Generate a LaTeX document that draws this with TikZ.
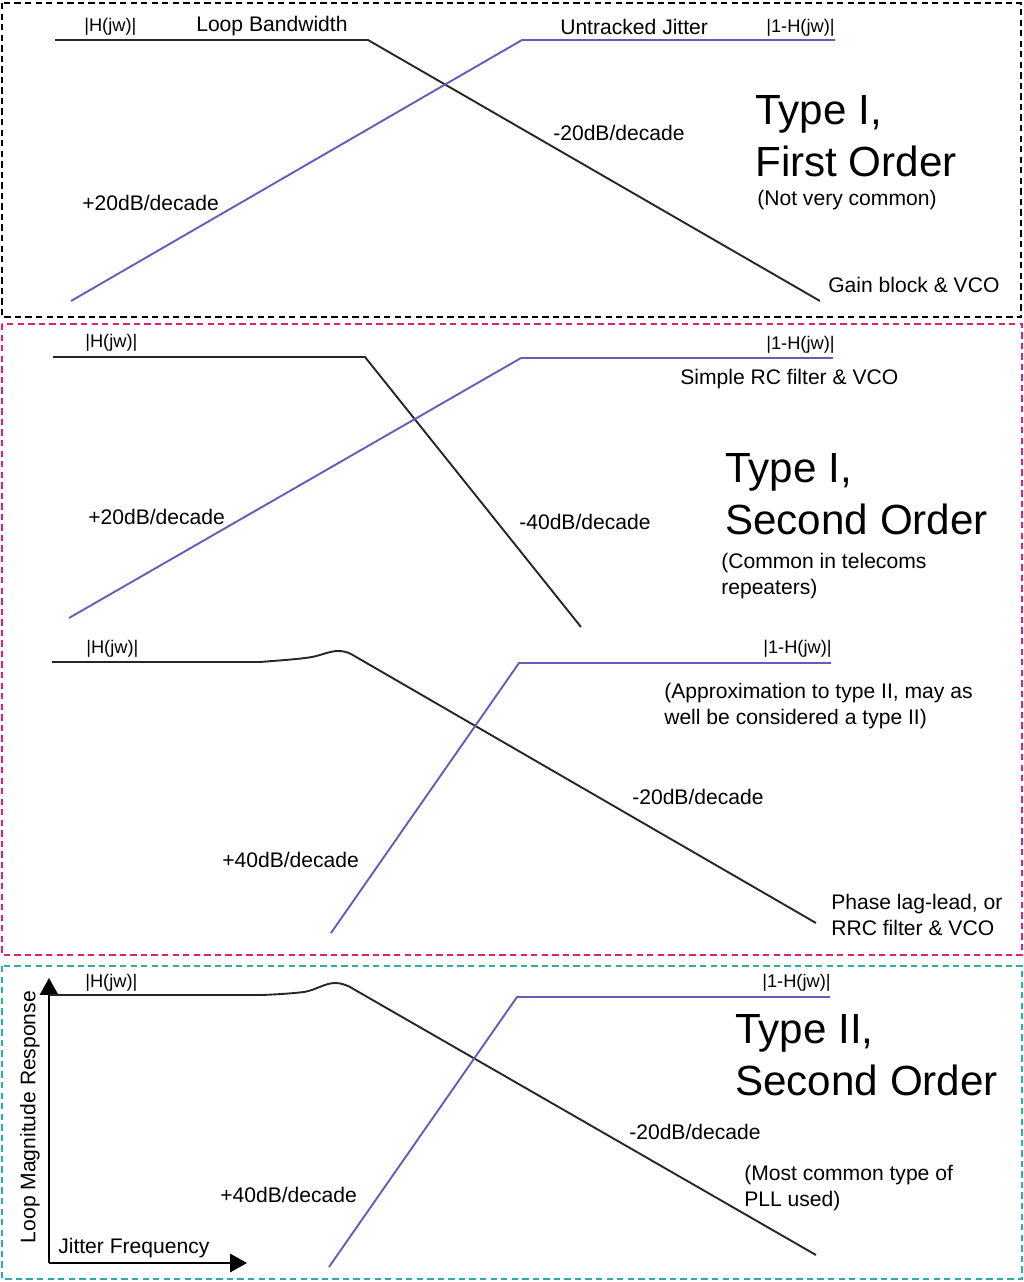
\documentclass[tikz,border=0pt]{standalone}
\usepackage{fontspec}
\setmainfont{Liberation Sans}
\usetikzlibrary{arrows.meta}

\definecolor{jitblue}{RGB}{95,95,185}
\definecolor{pinkdash}{RGB}{228,30,120}
\definecolor{tealdash}{RGB}{45,172,168}

\tikzset{
  frame/.style={line width=1.1pt, dash pattern=on 4.5pt off 3pt},
  resp/.style={line width=1.35pt, black!85},
  jit/.style={line width=1.35pt, jitblue},
  lbl/.style={inner sep=0pt, anchor=west, align=left, font=\fontsize{15}{18.3}\selectfont},
  tag/.style={inner sep=0pt, anchor=west, font=\fontsize{13}{15}\selectfont},
  title/.style={inner sep=0pt, anchor=west, align=left, font=\fontsize{30}{37}\selectfont},
  axis/.style={line width=1.5pt, -{Triangle[length=12pt,width=13pt]}}
}

\begin{document}
\begin{tikzpicture}[x=0.025cm, y=-0.025cm]
\useasboundingbox (0,0) rectangle (1024,1282);

% panels
\draw[frame, black] (2,3) rectangle (1021,317);
\draw[frame, pinkdash] (2,324) rectangle (1022,955);
\draw[frame, tealdash] (2,966) rectangle (1022,1279);

% Type I, first order
\coordinate (ha1) at (55,40);
\coordinate (hb1) at (368,40);
\coordinate (hc1) at (820,301);
\coordinate (ja1) at (71,301);
\coordinate (jb1) at (522,40);
\coordinate (jc1) at (835,40);
\draw[resp] (ha1) -- (hb1) -- (hc1);
\draw[jit] (ja1) -- (jb1) -- (jc1);
\node[tag] (hlab1) at (84,27) {|H(jw)|};
\node[lbl] (bw) at (196,26) {Loop Bandwidth};
\node[lbl] (untr) at (560,27) {Untracked Jitter};
\node[tag] (jlab1) at (766,28) {|1-H(jw)|};
\node[lbl] (dn1) at (553,133) {-20dB/decade};
\node[lbl] (up1) at (82,203) {+20dB/decade};
\node[title] (typ1) at (755,136) {Type I,\\First Order};
\node[lbl] (note1) at (757,200) {(Not very common)};
\node[lbl] (impl1) at (828,285) {Gain block \& VCO};

% Type I, second order
\coordinate (ha2) at (53,357);
\coordinate (hb2) at (365,357);
\coordinate (hc2) at (581,627);
\coordinate (ja2) at (69,618);
\coordinate (jb2) at (521,358);
\coordinate (jc2) at (833,358);
\draw[resp] (ha2) -- (hb2) -- (hc2);
\draw[jit] (ja2) -- (jb2) -- (jc2);
\node[tag] (hlab2) at (85,343) {|H(jw)|};
\node[tag] (jlab2) at (766,345) {|1-H(jw)|};
\node[lbl] (impl2) at (680,379) {Simple RC filter \& VCO};
\node[lbl] (up2) at (88,517) {+20dB/decade};
\node[lbl] (dn2) at (519,522) {-40dB/decade};
\node[title] (typ2) at (725,494) {Type I,\\Second Order};
\node[lbl] (note2) at (721,576) {(Common in telecoms\\repeaters)};

% approximation to type II
\coordinate (ha3) at (52,662);
\coordinate (hb3) at (260,662);
\coordinate (hp3) at (338,651);
\coordinate (hc3) at (816,923);
\coordinate (ja3) at (331,933);
\coordinate (jb3) at (519,663);
\coordinate (jc3) at (831,663);
\draw[resp] (ha3) -- (hb3) .. controls (285,660) and (300,659) .. (312,657)
  .. controls (322,655) and (330,651) .. (hp3)
  .. controls (343,651) and (347,652) .. (351,654) -- (hc3);
\draw[jit] (ja3) -- (jb3) -- (jc3);
\node[tag] (hlab3) at (86,649) {|H(jw)|};
\node[tag] (jlab3) at (763,649) {|1-H(jw)|};
\node[lbl] (note3) at (664,706) {(Approximation to type II, may as\\well be considered a type II)};
\node[lbl] (dn3) at (632,797) {-20dB/decade};
\node[lbl] (up3) at (222,860) {+40dB/decade};
\node[lbl] (impl3) at (831,915) {Phase lag-lead, or\\RRC filter \& VCO};

% Type II, second order
\coordinate (org) at (49,1263);
\coordinate (ytip) at (49,978);
\coordinate (xtip) at (247,1263);
\draw[axis] (org) -- (ytip);
\draw[axis] (org) -- (xtip);
\node[lbl, rotate=90, anchor=center] (ylab) at (30,1117) {Loop Magnitude Response};
\node[lbl] (xlab) at (58,1248) {Jitter Frequency};
\coordinate (ha4) at (49,995);
\coordinate (hb4) at (262,995);
\coordinate (hp4) at (335,983);
\coordinate (hc4) at (816,1255);
\coordinate (ja4) at (329,1267);
\coordinate (jb4) at (517,997);
\coordinate (jc4) at (830,997);
\draw[resp] (ha4) -- (hb4) .. controls (285,994) and (295,993) .. (304,992)
  .. controls (316,990) and (325,983) .. (hp4)
  .. controls (341,983) and (346,985) .. (350,987) -- (hc4);
\draw[jit] (ja4) -- (jb4) -- (jc4);
\node[tag] (hlab4) at (85,983) {|H(jw)|};
\node[tag] (jlab4) at (762,983) {|1-H(jw)|};
\node[title] (typ4) at (735,1055) {Type II,\\Second Order};
\node[lbl] (dn4) at (629,1132) {-20dB/decade};
\node[lbl] (note4) at (744,1188) {(Most common type of\\PLL used)};
\node[lbl] (up4) at (220,1195) {+40dB/decade};
\end{tikzpicture}
\end{document}
